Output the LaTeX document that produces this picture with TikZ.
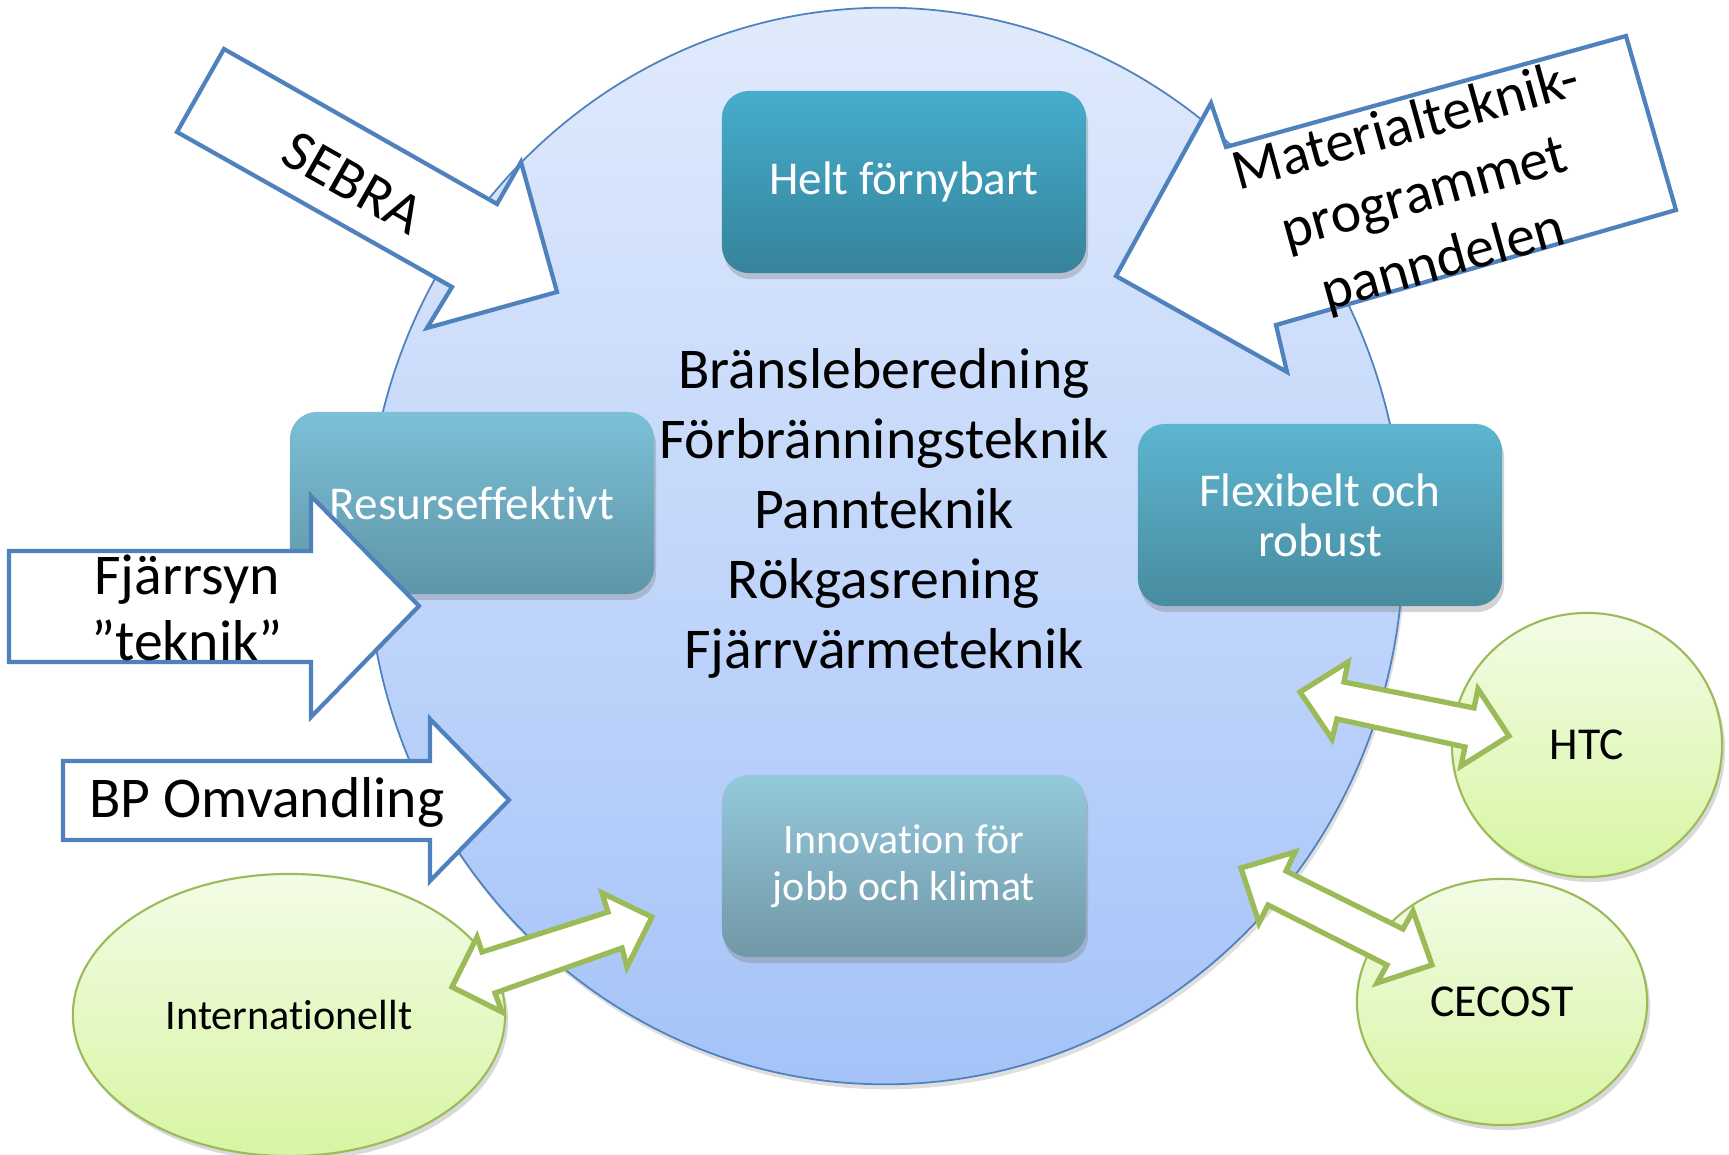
\documentclass[tikz,border=0pt]{standalone}
\usepackage{fontspec}
\setmainfont{Carlito}[RawFeature={-liga;-clig}]
\usetikzlibrary{shapes.geometric,shadows}
\definecolor{bluebd}{HTML}{4F81BD}
\definecolor{greenbd}{HTML}{9BBB59}
\definecolor{ellTop}{HTML}{E0EAFC}
\definecolor{ellBot}{HTML}{A5C3F8}
\definecolor{grTop}{HTML}{F3FCE6}
\definecolor{grBot}{HTML}{D7F5A3}
\definecolor{heltTop}{HTML}{45ADCC}
\definecolor{heltBot}{HTML}{36839A}
\definecolor{resTop}{HTML}{7CC0D8}
\definecolor{resBot}{HTML}{5F95A7}
\definecolor{flexTop}{HTML}{5DB5D0}
\definecolor{flexBot}{HTML}{488C9F}
\definecolor{innTop}{HTML}{94C9DC}
\definecolor{innBot}{HTML}{7198A7}
\tikzset{
  bigell/.style={ellipse, draw=bluebd, line width=0.5pt, top color=ellTop, bottom color=ellBot,
    minimum width=10.36cm, minimum height=10.76cm, inner sep=0pt,
    drop shadow={opacity=0.25, shadow xshift=0.02cm, shadow yshift=-0.05cm}},
  goalbox/.style={rounded corners=0.27cm, minimum width=3.64cm, minimum height=1.82cm,
    text=white, align=center, inner sep=0pt,
    drop shadow={opacity=0.35, shadow xshift=0.02cm, shadow yshift=-0.06cm},
    font=\fontsize{13.4}{14.3}\selectfont},
  blockarrow/.style={draw=bluebd, line width=1.2pt, fill=white, line join=miter},
  dblarrow/.style={draw=greenbd, line width=1.5pt, fill=white, line join=miter},
  greenell/.style={ellipse, draw=greenbd, line width=0.6pt, top color=grTop, bottom color=grBot,
    inner sep=0pt, drop shadow={opacity=0.3, shadow xshift=0.03cm, shadow yshift=-0.05cm},
    font=\fontsize{13}{15}\selectfont},
  bigtext/.style={font=\fontsize{16.4}{19.9}\selectfont, align=center, inner sep=0pt}
}
\begin{document}
\begin{tikzpicture}[x=0.01cm,y=-0.01cm]
\useasboundingbox (0,0) rectangle (1729,1155);

% main ellipse
\node[bigell] (main) at (885,546) {};

% goal boxes
\node[goalbox, top color=heltTop, bottom color=heltBot] (helt) at (904,182) {Helt förnybart};
\node[goalbox, top color=resTop, bottom color=resBot] (resurs) at (472,503) {Resurseffektivt};
\node[goalbox, top color=flexTop, bottom color=flexBot] (flex) at (1320,515) {Flexibelt och\\robust};
\node[goalbox, top color=innTop, bottom color=innBot, font=\fontsize{11.9}{13.4}\selectfont] (innov) at (904,866) {Innovation för\\jobb och klimat};

% centre text
\node[bigtext] (centre) at (884,513) {Bränsleberedning\\Förbränningsteknik\\Pannteknik\\Rökgasrening\\Fjärrvärmeteknik};

% green ellipses
\node[greenell, minimum width=2.70cm, minimum height=2.64cm] (htc) at (1587,745) {HTC};
\node[greenell, minimum width=2.90cm, minimum height=2.46cm] (cecost) at (1502,1002) {CECOST};
\node[greenell, minimum width=4.32cm, minimum height=2.82cm, font=\fontsize{12}{14}\selectfont] (intl) at (289,1015) {Internationellt};

% blue block arrows
\draw[blockarrow] (224,49) -- (497,204) -- (521,162) -- (557,292) -- (427,328) -- (452,287) -- (177,132) -- cycle;
\node[bigtext, rotate=-29.6] (sebra) at (353,183) {SEBRA};

\draw[blockarrow] (1626,36) -- (1226,147) -- (1211,103) -- (1116,276) -- (1287,372) -- (1276,325) -- (1676,210) -- cycle;
\node[bigtext, rotate=15.5] (mat) at (1425,195) {Materialteknik-\\programmet\\panndelen};

\draw[blockarrow] (9,551) -- (311,551) -- (311,496) -- (419,606) -- (311,717) -- (311,662) -- (9,662) -- cycle;
\node[bigtext, font=\fontsize{16.4}{18.8}\selectfont] (fjarr) at (187,608) {Fjärrsyn\\”teknik”};

\draw[blockarrow] (63,761) -- (430,761) -- (430,719) -- (509,800) -- (430,881) -- (430,840) -- (63,840) -- cycle;
\node[bigtext] (bp) at (267,802) {BP Omvandling};

% green double arrows
\draw[dblarrow] (1300,692) -- (1348,662) -- (1344,682) -- (1474,708) -- (1478,689) -- (1509,736) -- (1461,766) -- (1465,747) -- (1337,719) -- (1332,739) -- cycle;
\draw[dblarrow] (1241,868) -- (1295,852) -- (1286,871) -- (1403,929) -- (1413,911) -- (1432,965) -- (1377,983) -- (1387,965) -- (1268,905) -- (1259,923) -- cycle;
\draw[dblarrow] (452,987) -- (477,937) -- (482,952) -- (608,912) -- (602,893) -- (652,917) -- (627,967) -- (622,948) -- (495,993) -- (502,1012) -- cycle;
\end{tikzpicture}
\end{document}
